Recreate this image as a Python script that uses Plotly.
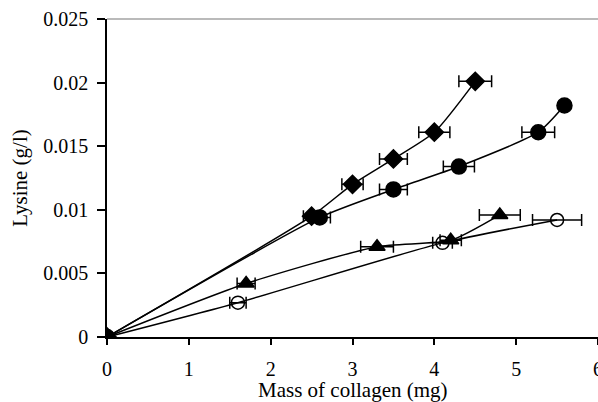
import plotly.graph_objects as go

# Data
x_diamond = [0, 2.5, 3.0, 3.5, 4.0, 4.5]
y_diamond = [0, 0.0095, 0.0120, 0.0140, 0.0161, 0.0201]
ex_diamond = [0, 0.10, 0.13, 0.17, 0.19, 0.20]

x_circle = [0, 2.6, 3.5, 4.3, 5.27, 5.59]
y_circle = [0, 0.0094, 0.0116, 0.0134, 0.0161, 0.0182]
ex_circle = [0, 0.13, 0.17, 0.19, 0.20, 0]

x_triangle = [0, 1.7, 3.3, 4.2, 4.8]
y_triangle = [0, 0.0042, 0.0071, 0.0076, 0.0096]
ex_triangle = [0, 0.11, 0.20, 0.13, 0.25]

x_open = [0, 1.6, 4.1, 5.5]
y_open = [0, 0.0027, 0.0074, 0.0092]
ex_open = [0, 0.10, 0.12, 0.30]

y_tickvals = [0, 0.005, 0.01, 0.015, 0.02, 0.025]
y_ticktext = ["0", "0.005", "0.01", "0.015", "0.02", "0.025"]
x_tickvals = [0, 1, 2, 3, 4, 5, 6]
x_title = "Mass of collagen (mg)"
y_title = "Lysine (g/l)"

fig = go.Figure()

def add(xs, ys, ex, symbol, size):
    fig.add_trace(go.Scatter(
        x=xs, y=ys, mode="lines+markers",
        line=dict(color="black", width=1.5, shape="spline", smoothing=0.6),
        marker=dict(symbol=symbol, size=size, color="black",
                    line=dict(color="black", width=1.5)),
        error_x=dict(type="data", array=ex, visible=True, color="black",
                     thickness=1.5, width=6),
        showlegend=False,
    ))

add(x_diamond, y_diamond, ex_diamond, "diamond", 14)
add(x_circle, y_circle, ex_circle, "circle", 15)
add(x_triangle, y_triangle, ex_triangle, "triangle-up", 14)
add(x_open, y_open, ex_open, "circle-open", 13)

tickfont = dict(family="Liberation Serif, Times New Roman, serif", size=20, color="black")
titlefont = dict(family="Liberation Serif, Times New Roman, serif", size=21, color="black")

fig.update_layout(
    width=598, height=402,
    margin=dict(l=107, r=0, t=19, b=65),
    paper_bgcolor="white", plot_bgcolor="white",
    font=tickfont,
    xaxis=dict(range=[0, 6], tickvals=x_tickvals, showgrid=False, zeroline=False,
               showline=True, linecolor="black", linewidth=1.5, mirror=False,
               ticks="outside", ticklen=6, tickcolor="black", tickwidth=1.5,
               ticklabelstandoff=7,
               automargin=False, tickfont=tickfont, ticklabeloverflow="allow"),
    yaxis=dict(range=[0, 0.025], tickvals=y_tickvals, ticktext=y_ticktext,
               showgrid=False, zeroline=False,
               showline=True, linecolor="black", linewidth=1.5, mirror=False,
               ticks="outside", ticklen=8, tickcolor="black", tickwidth=1.5,
               ticklabelstandoff=5,
               title=dict(text=y_title, font=titlefont, standoff=10),
               automargin=False, tickfont=tickfont),
    shapes=[dict(type="line", xref="paper", yref="paper", x0=0, x1=1, y0=1, y1=1,
                 line=dict(color="#777777", width=1.2))],
    annotations=[dict(text=x_title, xref="paper", yref="paper", x=0.5, y=-0.166,
                      xanchor="center", yanchor="middle", showarrow=False,
                      font=titlefont)],
)

fig.write_html("out.html")
